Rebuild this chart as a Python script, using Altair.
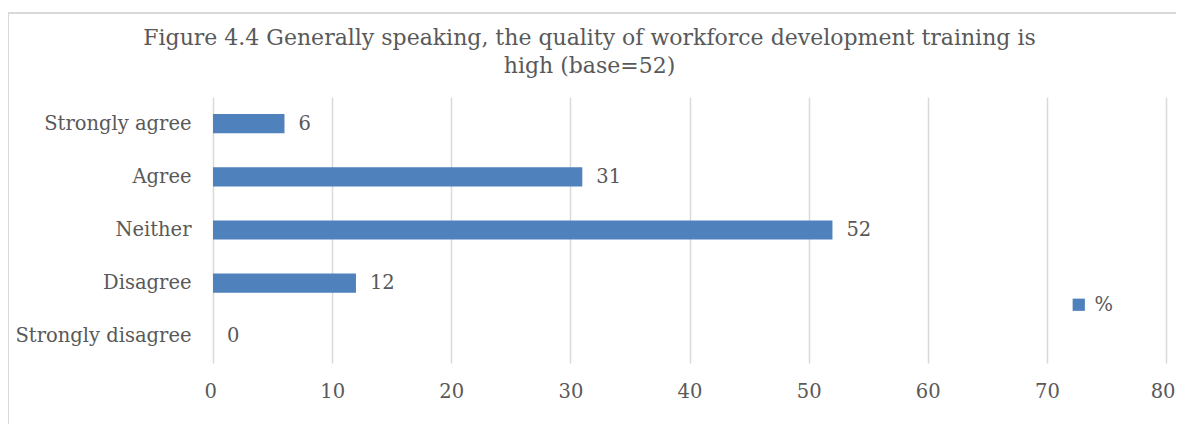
import altair as alt
import pandas as pd

categories = ["Strongly agree", "Agree", "Neither", "Disagree", "Strongly disagree"]
values = [6, 31, 52, 12, 0]
series_name = "%"
x_ticks = [0, 10, 20, 30, 40, 50, 60, 70, 80]
title_lines = ["Figure 4.4 Generally speaking, the quality of workforce development training is",
               "high (base=52)"]

df = pd.DataFrame({"cat": categories, "val": values, "series": [series_name] * len(categories)})

FONT = "DejaVu Serif"
GRAY = "#595959"
W, H = 953, 266
FS = 19.5

base = alt.Chart(df).encode(
    y=alt.Y("cat:N", sort=categories, title=None,
            scale=alt.Scale(paddingInner=0.64, paddingOuter=0.32),
            axis=alt.Axis(labelFont=FONT, labelFontSize=FS, labelColor=GRAY, labelLimit=400,
                          ticks=False, domain=False, labelPadding=22, grid=False)),
)

bars = base.mark_bar(color="#4F81BD").encode(
    x=alt.X("val:Q", title=None,
            scale=alt.Scale(domain=[0, 80], nice=False),
            axis=alt.Axis(values=x_ticks, labelFont=FONT, labelFontSize=FS, labelColor=GRAY,
                          labelFlush=True, labelFlushOffset=9, labelOverlap=False,
                          ticks=False, domain=False, labelPadding=19,
                          grid=True, gridColor="#d9d9d9", gridWidth=1.5)),
    color=alt.Color("series:N", scale=alt.Scale(range=["#4F81BD"]),
                    legend=alt.Legend(title=None, orient="none", legendX=856, legendY=198,
                                      symbolType="square", symbolSize=150,
                                      symbolStrokeWidth=0,
                                      labelFont=FONT, labelFontSize=FS, labelColor=GRAY,
                                      labelOffset=6)),
)

labels = base.mark_text(align="left", baseline="middle", dx=14, font=FONT,
                        fontSize=FS, color=GRAY).encode(
    x=alt.X("val:Q"),
    text=alt.Text("val:Q"),
)

border = alt.Chart(df.head(1)).mark_rect(fill=None, stroke="#d9d9d9", strokeWidth=2).encode(
    x=alt.value(-205), x2=alt.value(1100),
    y=alt.value(-84), y2=alt.value(500),
)

chart = alt.layer(border, bars, labels).properties(
    width=W, height=H,
    title=alt.TitleParams(text=title_lines, font=FONT, fontSize=22, fontWeight="normal",
                          color=GRAY, anchor="middle", frame="group", dx=-100, offset=-66,
                          lineHeight=28),
    autosize=alt.AutoSizeParams(type="none"),
    padding={"left": 205, "top": 89, "right": 10, "bottom": 61},
).configure_view(stroke=None)

chart.save("out.html", embed_options={"renderer": "svg", "actions": False})
